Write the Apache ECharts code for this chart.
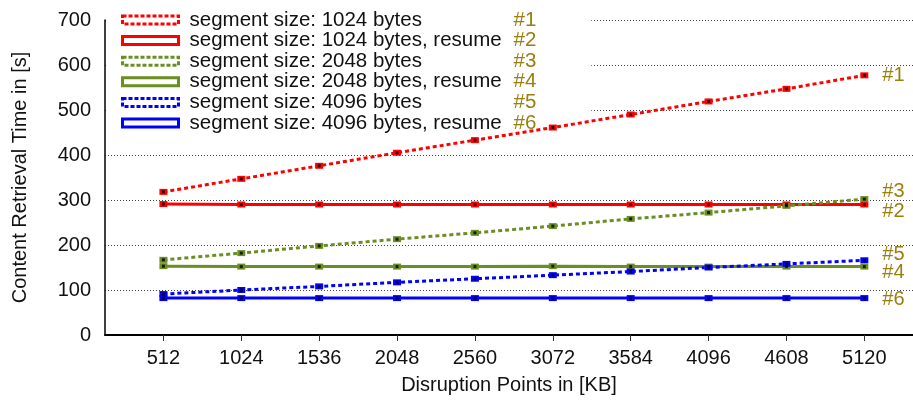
<!DOCTYPE html>
<html><head><meta charset="utf-8">
<script src="https://cdn.jsdelivr.net/npm/echarts@6/dist/echarts.min.js"></script>
<style>html,body{margin:0;padding:0;background:#fff}#c{width:913px;height:401px}</style>
</head><body><div id="c"></div><script>
// ---- data ----
const disruptionPoints = [512, 1024, 1536, 2048, 2560, 3072, 3584, 4096, 4608, 5120];
const xTickLabels = [512, 1024, 1536, 2048, 2560, 3072, 3584, 4096, 4608, 5120];
const yTickLabels = [0, 100, 200, 300, 400, 500, 600, 700];
const seg1024 = [318, 347, 376, 405, 433, 461, 490, 519, 547, 577];
const seg1024Resume = [291, 290, 290, 290, 290, 290, 290, 290, 290, 290];
const seg2048 = [167, 182, 198, 213, 227, 242, 258, 272, 287, 302];
const seg2048Resume = [153, 152, 152, 152, 152, 153, 152, 152, 152, 152];
const seg4096 = [91, 100, 108, 117, 125, 133, 141, 150, 158, 166];
const seg4096Resume = [82, 82, 82, 82, 82, 82, 82, 82, 82, 82];
const seriesNames = [
  'segment size: 1024 bytes',
  'segment size: 1024 bytes, resume',
  'segment size: 2048 bytes',
  'segment size: 2048 bytes, resume',
  'segment size: 4096 bytes',
  'segment size: 4096 bytes, resume'
];
const seriesTags = ['#1', '#2', '#3', '#4', '#5', '#6'];
const seriesValues = [seg1024, seg1024Resume, seg2048, seg2048Resume, seg4096, seg4096Resume];

// ---- styles ----
const colors = ['#ff0000', '#ff0000', '#6b8e23', '#6b8e23', '#0000ff', '#0000ff'];
const dashed = [true, false, true, false, true, false];
const tagOffsets = [0, 7, -8, 6, -6, 1];
const tagColor = '#9a7e10';
const FONT = '"Liberation Sans", Arial, Helvetica, sans-serif';
const FS = 20;
const DASH = [4, 3];

const series = [];
seriesValues.forEach((vals, i) => {
  const data = disruptionPoints.map((x, k) => [x, vals[k]]);
  series.push({
    type: 'line',
    name: seriesNames[i],
    data: data,
    symbol: 'rect',
    symbolSize: [8, 6],
    showAllSymbol: true,
    itemStyle: { color: colors[i] },
    lineStyle: { color: colors[i], width: 3, type: dashed[i] ? DASH : 'solid' },
    emphasis: { disabled: true },
    z: 3,
    endLabel: {
      show: true,
      formatter: seriesTags[i],
      color: tagColor,
      fontFamily: FONT,
      fontSize: FS,
      distance: 18,
      offset: [0, tagOffsets[i]]
    }
  });
  series.push({
    type: 'scatter',
    name: seriesNames[i] + ' pts',
    data: data,
    symbol: 'rect',
    symbolSize: 3,
    itemStyle: { color: '#000' },
    silent: true,
    z: 4
  });
});

const legendData = seriesNames.map((n, i) => ({
  name: n,
  icon: 'rect',
  itemStyle: {
    color: '#ffffff',
    borderColor: colors[i],
    borderWidth: 3,
    borderType: dashed[i] ? [4, 2] : 'solid'
  }
}));

const chart = echarts.init(document.getElementById('c'), null, { renderer: 'canvas' });
chart.setOption({
  animation: false,
  backgroundColor: '#ffffff',
  grid: { left: 105, right: 0, top: 20, bottom: 66, containLabel: false, outerBoundsMode: 'none' },
  legend: {
    show: true,
    orient: 'vertical',
    left: 107,
    top: 0,
    padding: [9.5, 55, 2, 14],
    backgroundColor: '#ffffff',
    itemWidth: 56,
    itemHeight: 8,
    itemGap: -0.4,
    selectedMode: false,
    data: legendData,
    formatter: function (name) {
      const i = seriesNames.indexOf(name);
      return '{a|' + name + '}{b|' + seriesTags[i] + '}';
    },
    textStyle: {
      fontFamily: FONT,
      fontSize: 20.5,
      color: '#111',
      lineHeight: 19.7,
      rich: {
        a: { fontFamily: FONT, fontSize: 20.5, color: '#111', width: 324, padding: [0, 0, 0, 6], lineHeight: 19.7 },
        b: { fontFamily: FONT, fontSize: 20.5, color: tagColor, lineHeight: 19.7 }
      }
    },
    z: 1
  },
  xAxis: {
    type: 'value',
    min: 128,
    max: 5440,
    name: 'Disruption Points in [KB]',
    nameLocation: 'middle',
    nameGap: 40,
    nameTextStyle: { fontFamily: FONT, fontSize: FS, color: '#111' },
    axisLine: { show: true, onZero: false, lineStyle: { color: '#000', width: 2 } },
    axisTick: { show: true, inside: false, length: 6, customValues: xTickLabels, lineStyle: { color: '#333', width: 1 } },
    axisLabel: { customValues: xTickLabels, formatter: function (v) { return String(v); }, fontFamily: FONT, fontSize: FS, color: '#111', margin: 13 },
    splitLine: { show: false }
  },
  yAxis: {
    type: 'value',
    min: yTickLabels[0],
    max: yTickLabels[yTickLabels.length - 1],
    interval: 100,
    name: 'Content Retrieval Time in [s]',
    nameLocation: 'middle',
    nameGap: 75,
    nameTextStyle: { fontFamily: FONT, fontSize: FS, color: '#111' },
    axisLine: { show: true, lineStyle: { color: '#000', width: 1.5 } },
    axisTick: { show: false },
    axisLabel: { fontFamily: FONT, fontSize: FS, color: '#111', margin: 14 },
    splitLine: { show: true, lineStyle: { color: '#444', width: 1, type: [1, 2] } }
  },
  series: series
});
</script></body></html>
